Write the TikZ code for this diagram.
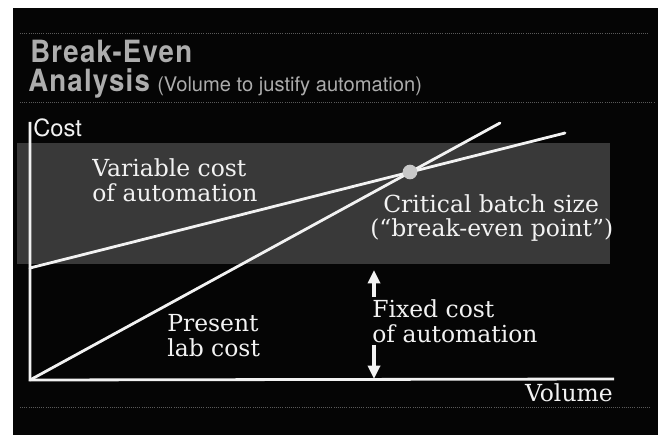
\documentclass[tikz,border=0pt]{standalone}
\usepackage{fontspec}
\setmainfont{DejaVu Serif}
\newfontfamily\headfont{TeX Gyre Heros}
\newfontfamily\headcond[FakeStretch=0.9,LetterSpace=4]{TeX Gyre Heros}
\usetikzlibrary{arrows.meta}
\definecolor{panel}{HTML}{050505}
\definecolor{band}{HTML}{393939}
\definecolor{titlegray}{HTML}{ADADAD}
\definecolor{rulegray}{HTML}{5A5A5A}
\definecolor{dotgray}{HTML}{C8C8C8}
\definecolor{ink}{HTML}{F2F2F2}
\tikzset{
  plotline/.style={draw=ink, line width=2.1pt, line cap=round},
  axisline/.style={draw=ink, line width=2.1pt},
  label/.style={text=ink, inner sep=0pt, anchor=base west, font=\fontsize{17.6}{18}\selectfont},
  titletext/.style={text=titlegray, inner sep=0pt, anchor=base west},
  dimarrow/.style={draw=ink, line width=2.8pt, -{Triangle[length=10pt,width=9pt]}},
  hairline/.style={draw=rulegray, line width=0.6pt, densely dotted}
}
\begin{document}
\begin{tikzpicture}[x=0.75pt,y=-0.75pt]
\useasboundingbox (0,0) rectangle (661,435);
% panel and band
\fill[panel] (13,8) rectangle (658,435);
\draw[hairline] (20,33) -- (648,33);
\draw[hairline] (20,102) -- (655,102);
\draw[hairline] (20,407) -- (650,407);
\fill[band] (17,143) rectangle (610,264);
% title
\node[titletext, font=\headcond\bfseries\fontsize{23}{23}\selectfont] (t1) at (30,63) {Break-Even};
\node[titletext, font=\headcond\bfseries\fontsize{23}{23}\selectfont] (t2) at (28,92) {Analysis};
\node[titletext, font=\headfont\fontsize{15.1}{15}\selectfont] (t3) at (157,92) {(Volume to justify automation)};
% coordinates
\coordinate (O) at (30,380);
\coordinate (ytop) at (30,122);
\coordinate (xend) at (614,379);
\coordinate (vstart) at (30,268);
\coordinate (vend) at (565,133);
\coordinate (pend) at (500,123);
\coordinate (aup0) at (374,297);
\coordinate (aup1) at (374,270);
\coordinate (adn0) at (374,345);
\coordinate (adn1) at (374,379);
% axes
\draw[axisline] (ytop) -- (O) -- (xend);
% cost lines
\draw[plotline] (vstart) -- (vend);
\draw[plotline] (O) -- (pend);
% break-even point
\node[circle, fill=dotgray, minimum size=11pt, inner sep=0pt] (be) at (410,172) {};
% fixed cost arrows
\draw[dimarrow] (aup0) -- (aup1);
\draw[dimarrow] (adn0) -- (adn1);
% labels
\node[text=ink, inner sep=0pt, anchor=base west, font=\headfont\fontsize{17.8}{18}\selectfont] (cost) at (33,137) {Cost};
\node[label] (var1) at (92,176) {Variable cost};
\node[label] (var2) at (92,201) {of automation};
\node[label] (crit1) at (383,212) {Critical batch size};
\node[label] (crit2) at (370,236) {(“break-even point”)};
\node[label] (fix1) at (372,317) {Fixed cost};
\node[label] (fix2) at (372,342) {of automation};
\node[label] (pres1) at (167,331) {Present};
\node[label] (pres2) at (167,356) {lab cost};
\node[label, anchor=base east] (vol) at (613,401) {Volume};
\end{tikzpicture}
\end{document}
